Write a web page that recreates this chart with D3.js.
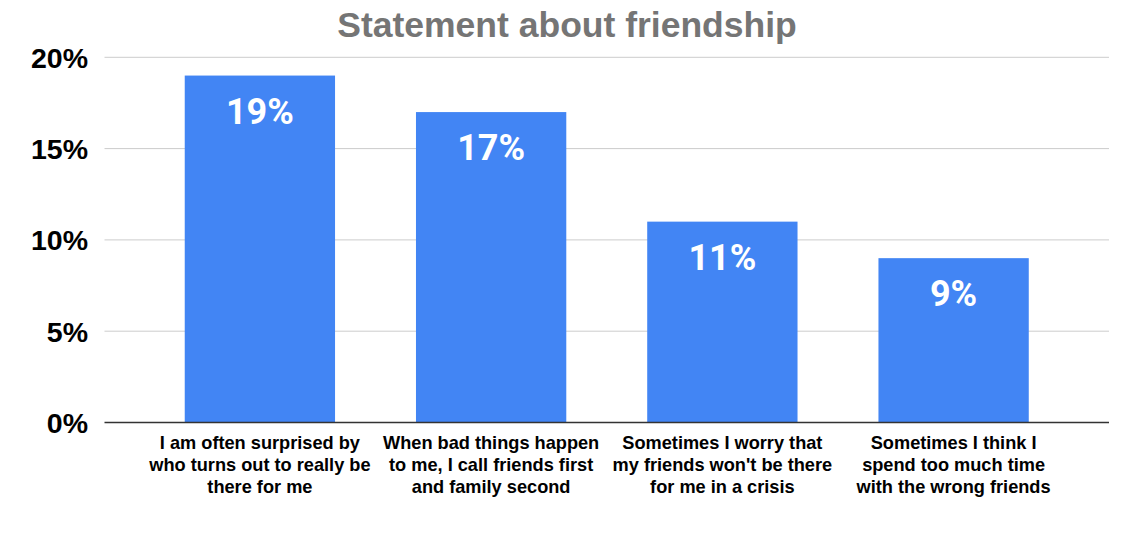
<!DOCTYPE html>
<html><head><meta charset="utf-8">
<script src="https://cdn.jsdelivr.net/npm/d3@7"></script>
<style>body{margin:0;background:#fff}</style>
</head><body>
<script>
const categories = [
  ["I am often surprised by","who turns out to really be","there for me"],
  ["When bad things happen","to me, I call friends first","and family second"],
  ["Sometimes I worry that","my friends won't be there","for me in a crisis"],
  ["Sometimes I think I","spend too much time","with the wrong friends"]
];
const values = [0.19, 0.17, 0.11, 0.09];
const yTicks = [0, 0.05, 0.10, 0.15, 0.20];
const title = "Statement about friendship";

const W = 1137, H = 545;
const m = {left: 104.5, right: 1109, top: 57.3, bottom: 422.5};
const svg = d3.select("body").append("svg").attr("width", W).attr("height", H);

const x = d3.scaleBand().domain(d3.range(values.length)).range([m.left, m.right])
  .paddingInner(0.35).paddingOuter(0.347);
const y = d3.scaleLinear().domain([0, 0.20]).range([m.bottom, m.top]);

// gridlines
svg.append("g").selectAll("line").data(yTicks.slice(1)).join("line")
  .attr("x1", m.left).attr("x2", m.right)
  .attr("y1", d => y(d)).attr("y2", d => y(d))
  .attr("stroke", "#cccccc").attr("stroke-width", 1);

// y tick labels
svg.append("g").selectAll("text").data(yTicks).join("text")
  .attr("x", 88).attr("y", d => y(d) + 10.5)
  .attr("text-anchor", "end")
  .attr("font-family", "Liberation Sans, Arial, sans-serif")
  .attr("font-weight", "bold").attr("font-size", 28.5).attr("fill", "#000")
  .text(d => d3.format(".0%")(d));

// bars
svg.append("g").selectAll("rect").data(values).join("rect")
  .attr("x", (d, i) => x(i)).attr("width", x.bandwidth())
  .attr("y", d => y(d)).attr("height", d => y(0) - y(d))
  .attr("fill", "#4285f4");

// baseline
svg.append("line").attr("x1", m.left).attr("x2", m.right)
  .attr("y1", y(0)).attr("y2", y(0)).attr("stroke", "#333").attr("stroke-width", 1.5);

// value labels
svg.append("g").selectAll("text").data(values).join("text")
  .attr("x", (d, i) => x(i) + x.bandwidth() / 2)
  .attr("y", d => y(d) + 48)
  .attr("text-anchor", "middle")
  .attr("font-family", "Roboto, sans-serif").attr("font-weight", "bold")
  .attr("font-size", 36).attr("fill", "#fff")
  .text(d => d3.format(".0%")(d));

// category labels
const cg = svg.append("g").selectAll("text").data(categories).join("text")
  .attr("text-anchor", "middle")
  .attr("font-family", "Liberation Sans, Arial, sans-serif")
  .attr("font-weight", "bold").attr("font-size", 18.2).attr("fill", "#000");
cg.each(function(lines, i) {
  d3.select(this).selectAll("tspan").data(lines).join("tspan")
    .attr("x", x(i) + x.bandwidth() / 2)
    .attr("y", (l, j) => 449 + j * 21.8)
    .text(l => l);
});

// title
svg.append("text").attr("x", 567).attr("y", 37).attr("text-anchor", "middle")
  .attr("font-family", "Liberation Sans, Arial, sans-serif").attr("font-weight", "bold")
  .attr("font-size", 35.5).attr("fill", "#757575").text(title);
</script>
</body></html>
